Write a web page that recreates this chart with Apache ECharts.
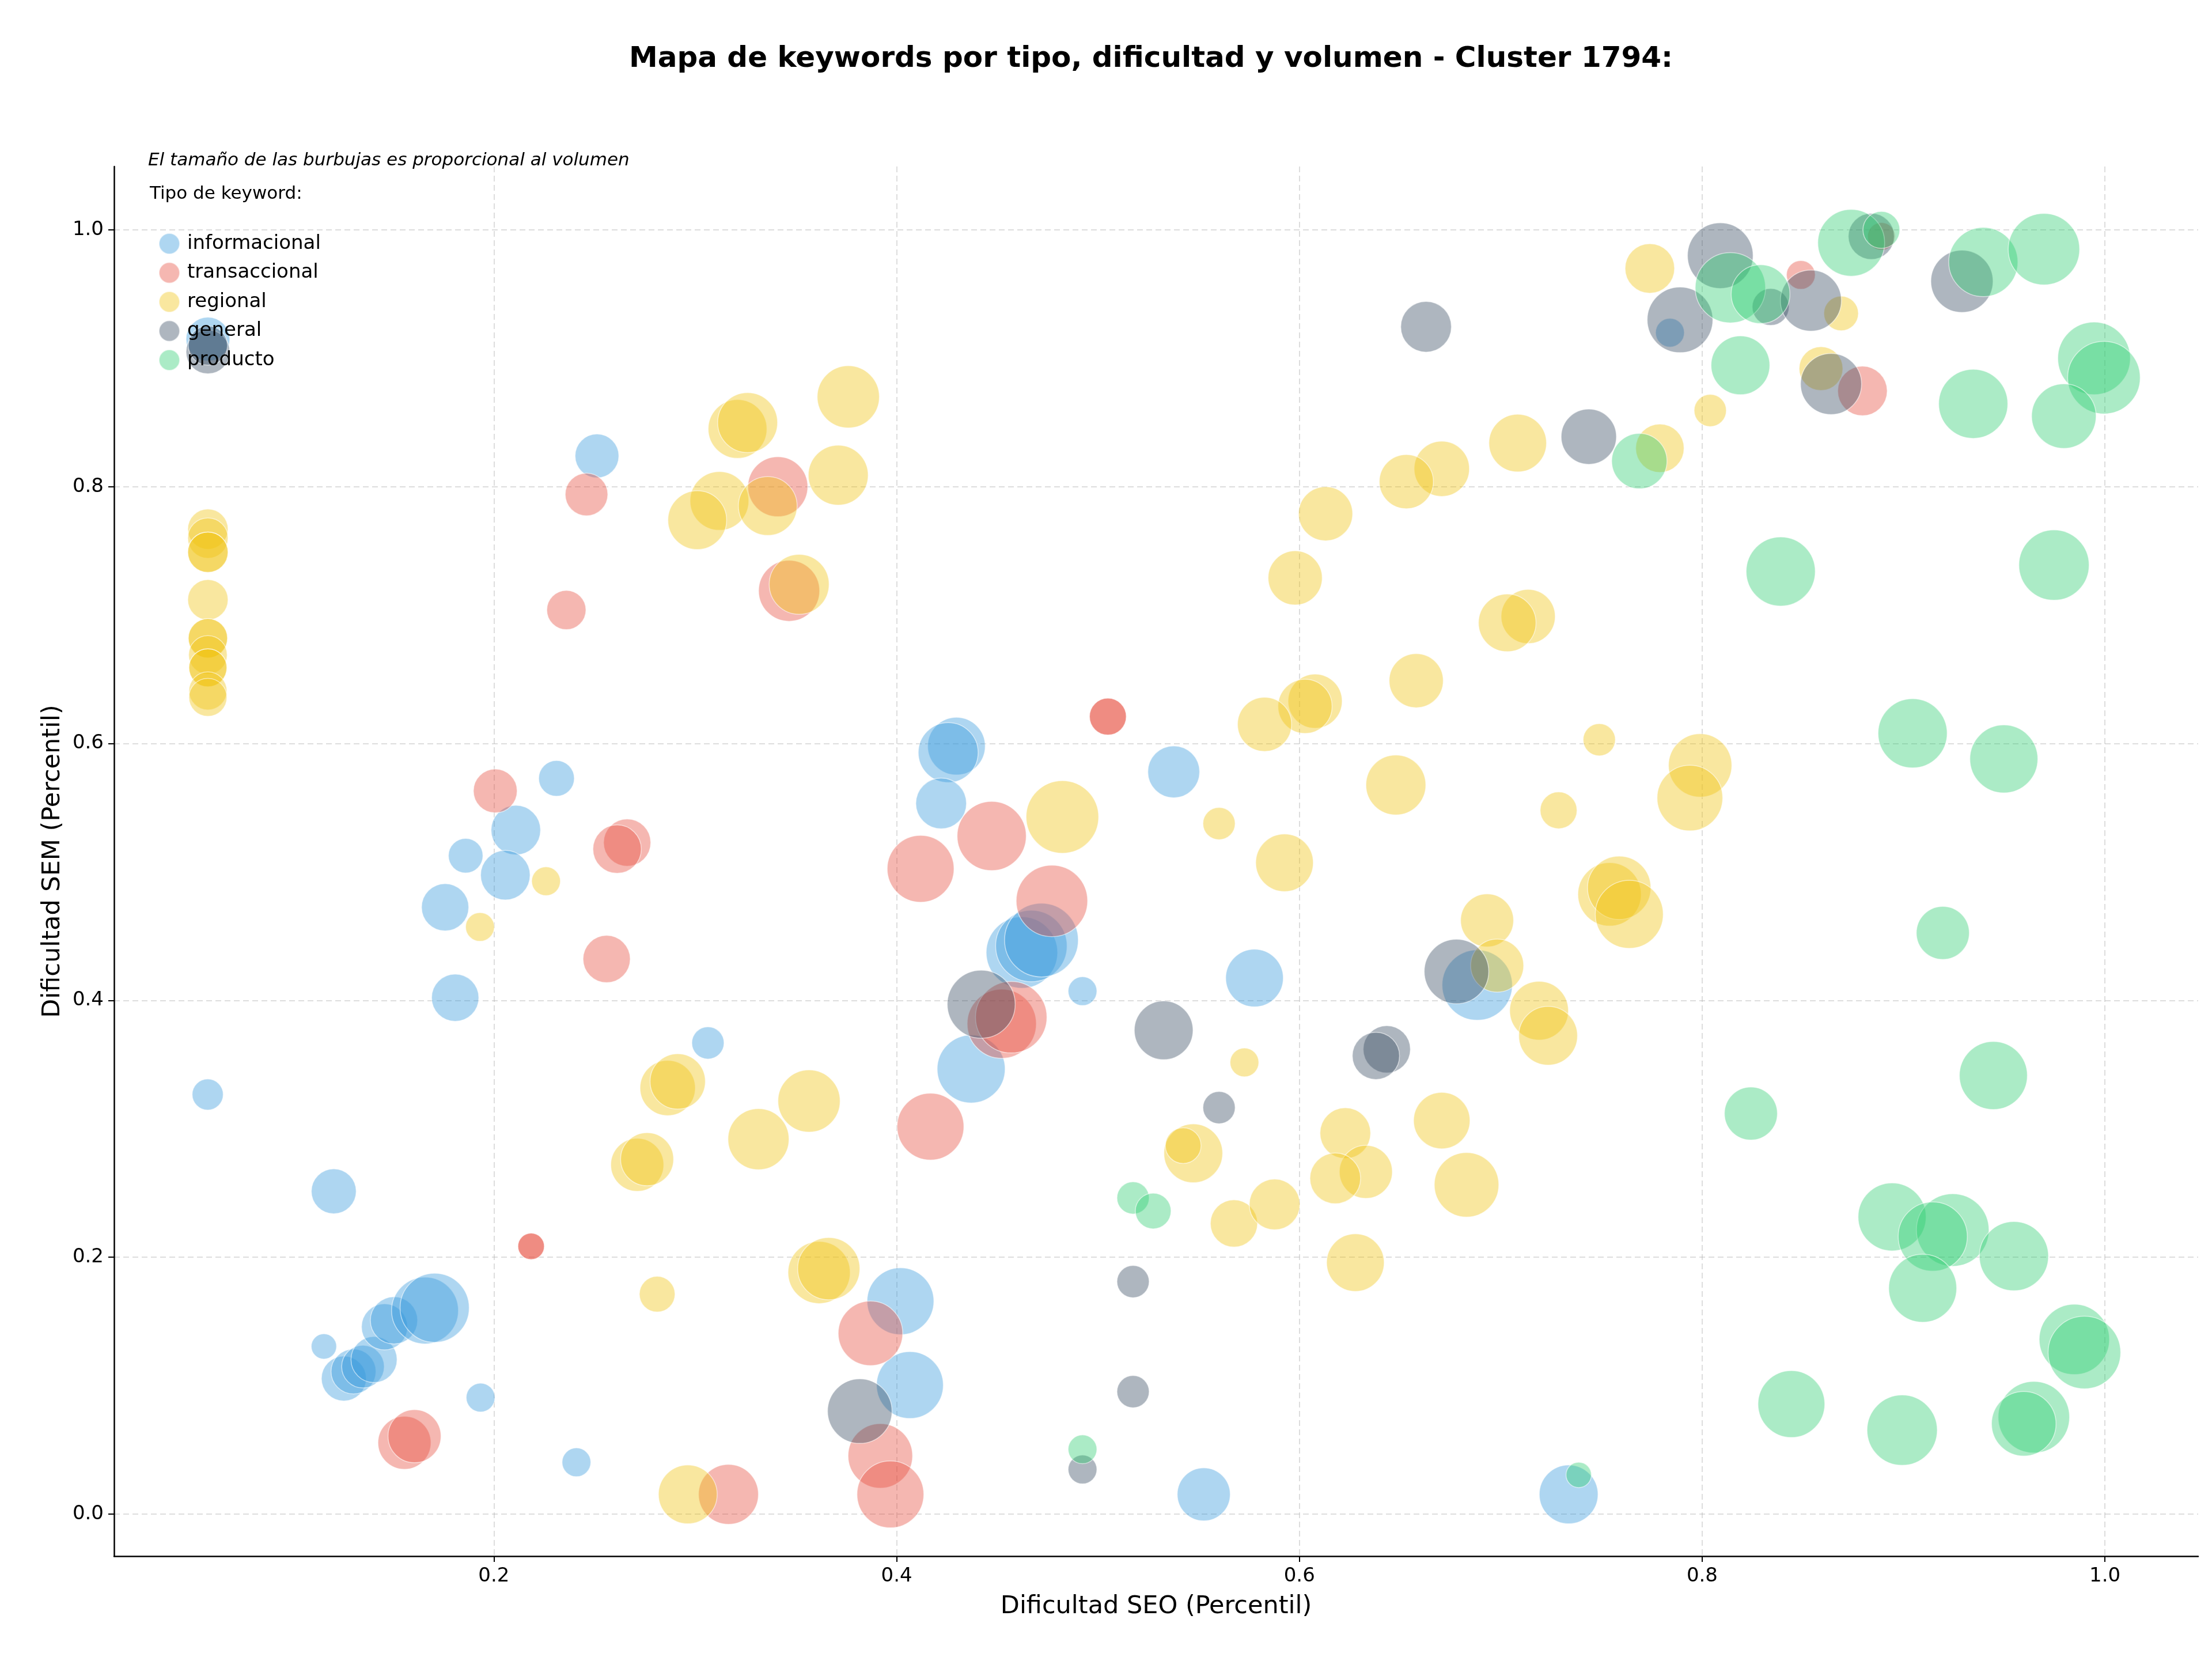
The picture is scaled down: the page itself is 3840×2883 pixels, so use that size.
<!DOCTYPE html>
<html>
<head>
<meta charset="utf-8">
<script src="https://cdn.jsdelivr.net/npm/echarts@6/dist/echarts.min.js"></script>
<style>html,body{margin:0;padding:0;background:#fff;}#chart{width:3840px;height:2883px;}</style>
</head>
<body>
<div id="chart"></div>
<script>
// tipos de keyword (orden de la leyenda)
var tipos = ['informacional','transaccional','regional','general','producto'];
var colores = ['rgba(52,152,219,0.5)','rgba(231,76,60,0.5)','rgba(241,196,15,0.5)','rgba(52,73,94,0.5)','rgba(46,204,113,0.5)'];
var xTicks = [0.2,0.4,0.6,0.8,1.0];
var yTicks = [0.0,0.2,0.4,0.6,0.8,1.0];

// informacional
var infoX = [0.058,0.2512,0.4297,0.4256,0.4221,0.4622,0.4669,0.4719,0.4923,0.437,0.5777,0.5376,0.5525,0.4019,0.4066,0.6883,0.784,0.7337,0.2311,0.2109,0.186,0.2057,0.1758,0.1808,0.3063,0.0579,0.1205,0.1156,0.1255,0.1303,0.135,0.1405,0.1457,0.1504,0.1658,0.1706,0.1934,0.241];
var infoY = [0.915,0.824,0.598,0.593,0.5534,0.4373,0.4424,0.447,0.4072,0.3466,0.4174,0.578,0.0153,0.1657,0.1004,0.4119,0.92,0.0153,0.5729,0.5326,0.5127,0.4975,0.4725,0.4021,0.3669,0.3267,0.2513,0.1305,0.1055,0.111,0.1148,0.1203,0.1458,0.1508,0.1585,0.1606,0.0907,0.0403];
var infoVol = [361,361,625,676,484,961,961,1024,156,870,625,506,529,841,841,930,156,650,240,462,225,462,420,420,196,182,380,121,380,380,342,400,400,420,841,900,156,156];

// transaccional
var tranX = [0.246,0.236,0.341,0.3466,0.5049,0.5049,0.849,0.889,0.8796,0.4472,0.4119,0.4771,0.4522,0.4569,0.4168,0.387,0.3919,0.3969,0.2007,0.2662,0.2612,0.256,0.2185,0.2185,0.1556,0.1606,0.3165];
var tranY = [0.794,0.704,0.8,0.719,0.621,0.621,0.965,0.995,0.8746,0.528,0.5025,0.4775,0.3818,0.3869,0.3017,0.1407,0.0453,0.0153,0.5631,0.5229,0.5178,0.4322,0.2085,0.2085,0.0555,0.0606,0.0153];
var tranVol = [342,289,676,702,256,256,156,144,462,900,841,961,900,961,841,784,784,841,361,420,441,420,132,132,529,529,676];

// regional
var regX = [0.058,0.058,0.058,0.058,0.058,0.058,0.058,0.058,0.058,0.058,0.058,0.058,
  0.321,0.326,0.376,0.371,0.312,0.301,0.336,0.3516,0.7084,0.6707,0.6531,0.613,0.5979,0.7136,0.7032,0.658,0.6078,0.6028,0.5827,
  0.774,0.869,0.804,0.859,0.779,0.7489,0.799,0.7939,0.7287,0.754,0.7588,0.7638,0.719,0.7235,
  0.4823,0.5601,0.5926,0.6479,0.5727,0.5473,0.5423,0.5675,0.5877,0.6932,0.6982,0.6707,0.6228,0.633,0.6178,0.683,0.6278,
  0.2259,0.1931,0.2863,0.2913,0.3565,0.3314,0.2712,0.2761,0.2811,0.3615,0.3663,0.2963];
var regY = [0.767,0.76,0.749,0.749,0.712,0.682,0.682,0.669,0.659,0.659,0.641,0.636,
  0.845,0.85,0.87,0.809,0.789,0.774,0.785,0.724,0.834,0.814,0.804,0.779,0.729,0.699,0.694,0.649,0.633,0.629,0.615,
  0.97,0.935,0.8594,0.892,0.83,0.603,0.583,0.5576,0.548,0.4826,0.4877,0.467,0.392,0.3725,
  0.5428,0.5377,0.5072,0.5678,0.3517,0.2809,0.2869,0.2263,0.2411,0.4623,0.4271,0.3064,0.2966,0.2665,0.2614,0.2564,0.1958,
  0.4928,0.4572,0.3318,0.3369,0.3216,0.2919,0.272,0.2763,0.1712,0.1881,0.1911,0.0153];
var regVol = [306,306,306,306,306,290,290,280,272,272,272,272,
  650,676,729,676,650,650,650,676,625,576,552,552,552,552,625,552,552,552,552,
  462,225,196,361,441,196,756,812,256,756,756,870,650,650,
  992,196,625,676,156,650,240,420,484,529,529,600,484,529,484,784,625,
  156,156,576,576,729,702,529,529,240,729,729,650];

// general
var genX = [0.058,0.058,0.6629,0.809,0.789,0.834,0.854,0.884,0.929,0.864,0.7437,0.442,0.5326,0.5601,0.5174,0.5174,0.4923,0.3817,0.678,0.6434,0.638];
var genY = [0.905,0.91,0.9246,0.98,0.93,0.94,0.945,0.995,0.96,0.88,0.839,0.397,0.3767,0.3165,0.181,0.0953,0.0347,0.0801,0.4225,0.3619,0.3568];
var genVol = [361,289,484,812,812,256,702,400,729,702,576,870,650,196,196,196,156,784,784,420,420];

// producto
var prodX = [0.814,0.829,0.874,0.889,0.9396,0.9697,0.819,0.9346,0.9946,0.9995,0.9796,0.7688,0.839,0.9747,0.9045,0.9498,0.9195,0.9446,0.8242,0.8943,0.9244,0.9145,0.9548,0.9095,0.9848,0.9898,0.8443,0.8993,0.9647,0.9597,0.7387,0.5174,0.5274,0.4923];
var prodY = [0.955,0.95,0.99,1.0,0.975,0.985,0.8946,0.8646,0.9,0.885,0.855,0.82,0.734,0.739,0.608,0.588,0.4525,0.3415,0.3119,0.2314,0.2212,0.2161,0.2008,0.1758,0.136,0.1258,0.0856,0.0653,0.0754,0.0703,0.0305,0.2462,0.236,0.0504];
var prodVol = [930,650,841,256,900,961,650,900,992,992,784,576,900,930,900,870,529,870,529,870,992,900,900,870,930,992,841,930,961,784,121,196,240,156];

var seriesX = [infoX,tranX,regX,genX,prodX];
var seriesY = [infoY,tranY,regY,genY,prodY];
var seriesVol = [infoVol,tranVol,regVol,genVol,prodVol];

var chart = echarts.init(document.getElementById('chart'));
var font = 'DejaVu Sans';
var series = tipos.map(function(t,k){
  return {
    name: t, type: 'scatter',
    data: seriesX[k].map(function(v,i){return [v, seriesY[k][i], seriesVol[k][i]];}),
    symbolSize: function(d){return Math.sqrt(d[2])*4;},
    itemStyle: {color: colores[k], borderColor: 'rgba(255,255,255,0.7)', borderWidth: 1.5},
    emphasis: {disabled: true}
  };
});

var fmt = function(v){return Number(v).toFixed(1);};
chart.setOption({
  animation: false,
  backgroundColor: '#ffffff',
  grid: {left: 198, right: 24, top: 289, bottom: 182},
  legend: {
    data: tipos, orient: 'vertical', left: 270, top: 399,
    itemWidth: 52, itemHeight: 36, itemGap: 12.5, icon: 'circle',
    textStyle: {fontFamily: font, fontSize: 34, color: '#000', lineHeight: 36}
  },
  xAxis: {
    type: 'value', min: 0.0114, max: 1.0463,
    name: 'Dificultad SEO (Percentil)', nameLocation: 'middle', nameGap: 66,
    nameTextStyle: {fontFamily: font, fontSize: 43, color: '#000'},
    axisLine: {show: true, onZero: false, lineStyle: {color: '#000', width: 2.5}},
    axisTick: {show: true, length: 10, lineStyle: {color: '#000', width: 2}, customValues: xTicks},
    axisLabel: {customValues: xTicks, formatter: fmt, fontFamily: font, fontSize: 34, color: '#000', margin: 18},
    splitLine: {show: true, lineStyle: {color: 'rgba(180,180,180,0.45)', width: 2, type: [10, 6]}}
  },
  yAxis: {
    type: 'value', min: -0.0328, max: 1.0494,
    name: 'Dificultad SEM (Percentil)', nameLocation: 'middle', nameGap: 85, nameRotate: 90,
    nameTextStyle: {fontFamily: font, fontSize: 43, color: '#000'},
    axisLine: {show: true, onZero: false, lineStyle: {color: '#000', width: 2.5}},
    axisTick: {show: true, length: 10, lineStyle: {color: '#000', width: 2}, customValues: yTicks},
    axisLabel: {customValues: yTicks, formatter: fmt, fontFamily: font, fontSize: 34, color: '#000', margin: 18},
    splitLine: {show: true, lineStyle: {color: 'rgba(180,180,180,0.45)', width: 2, type: [10, 6]}}
  },
  graphic: [
    {type: 'text', x: 1998, y: 103, style: {text: 'Mapa de keywords por tipo, dificultad y volumen - Cluster 1794:', font: 'bold 50px "DejaVu Sans"', fill: '#000', textAlign: 'center', textVerticalAlign: 'middle'}},
    {type: 'text', x: 257, y: 279, style: {text: 'El tamaño de las burbujas es proporcional al volumen', font: 'italic 31px "DejaVu Sans"', fill: '#000', textAlign: 'left', textVerticalAlign: 'middle'}},
    {type: 'text', x: 260, y: 337, style: {text: 'Tipo de keyword:', font: '31px "DejaVu Sans"', fill: '#000', textAlign: 'left', textVerticalAlign: 'middle'}}
  ],
  series: series
});
</script>
</body>
</html>
